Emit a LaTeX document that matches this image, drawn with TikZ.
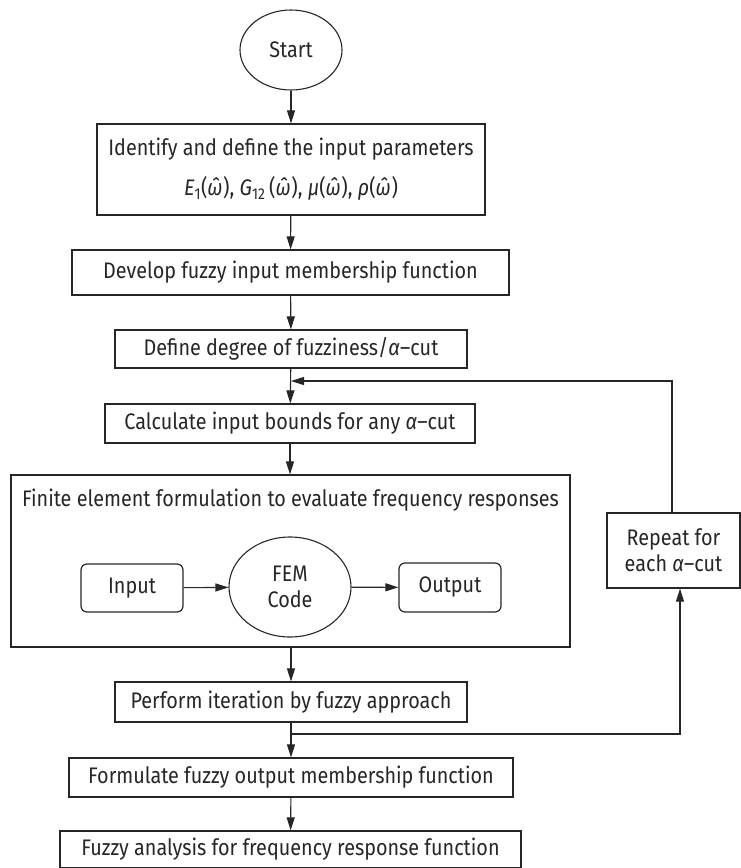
\documentclass[tikz,border=0pt]{standalone}
\usepackage{fontspec}
\setmainfont{Fira Sans}[FakeStretch=0.88]
\usetikzlibrary{arrows.meta,shapes.geometric}
\definecolor{ink}{HTML}{262626}
\begin{document}
\begin{tikzpicture}[x=1pt,y=-1pt,
  every node/.style={text=ink,font=\fontsize{22.5}{26}\selectfont},
  box/.style={draw=ink,line width=1.2pt,rectangle,inner sep=0pt},
  rbox/.style={box,rounded corners=6pt},
  oval/.style={draw=ink,line width=1.1pt,ellipse,inner sep=0pt},
  flow/.style={draw=ink,line width=1.1pt,-{Triangle[length=13pt,width=8pt]}},
  wire/.style={draw=ink,line width=1.1pt}]
\useasboundingbox (0,0) rectangle (741,868);

% main column
\node[oval,minimum width=102pt,minimum height=80pt] (start) at (291,50) {Start};
\node[box,minimum width=388pt,minimum height=91pt,align=center] (ident) at (291,169.5)
  {Identify and define the input parameters\\[14pt]
   \textit{E}\textsubscript{1}(\textit{ω̂}), \textit{G}\textsubscript{12}\,(\textit{ω̂}), \textit{μ}(\textit{ω̂}), \textit{ρ}(\textit{ω̂})};
\node[box,minimum width=437pt,minimum height=45pt] (develop) at (290.5,272.5) {Develop fuzzy input membership function};
\node[box,minimum width=352pt,minimum height=38pt] (degree) at (291,349) {Define degree of fuzziness/\textit{α}–cut};
\node[box,minimum width=370pt,minimum height=39pt] (bounds) at (290,423.5) {Calculate input bounds for any \textit{α}–cut};

% finite element block
\node[box,minimum width=559pt,minimum height=172pt] (fe) at (290.5,561) {};
\node[anchor=north,inner sep=0pt] (fetitle) at ([yshift=-14pt]fe.north) {Finite element formulation to evaluate frequency responses};
\node[rbox,minimum width=102pt,minimum height=48pt] (in) at (132,588) {Input};
\node[oval,minimum width=122pt,minimum height=100pt,align=center] (fem) at (290,587) {FEM\\Code};
\node[rbox,minimum width=102pt,minimum height=49pt] (out) at (450,587.5) {Output};

\node[box,minimum width=352pt,minimum height=40pt] (iter) at (291,702) {Perform iteration by fuzzy approach};
\node[box,minimum width=444pt,minimum height=39pt] (formout) at (291,777.5) {Formulate fuzzy output membership function};
\node[box,minimum width=461pt,minimum height=37pt] (final) at (290.5,849.5) {Fuzzy analysis for frequency response function};

% loop box
\node[box,minimum width=133pt,minimum height=75pt,align=center] (repeat) at (673.5,550.5) {Repeat for\\each \textit{α}–cut};

% junction points of the loop
\coordinate (jtop) at (291,381);
\coordinate (jbot) at (291,734);
\coordinate (rtop) at (672,381);
\coordinate (rbot) at (680,734);

% connectors
\draw[flow] (start) -- (ident);
\draw[flow] (ident) -- (develop);
\draw[flow] (develop) -- (degree);
\draw[flow] (degree) -- (bounds);
\draw[flow] (bounds) -- (bounds.south |- fe.north);
\draw[flow] (in) -- (fem);
\draw[flow] (fem) -- (out);
\draw[flow] (fe.south -| iter.north) -- (iter);
\draw[flow] (iter) -- (formout);
\draw[flow] (formout) -- (final);
\draw[flow] (repeat.north -| rtop) -- (rtop) -- (jtop);
\draw[flow] (jbot) -- (rbot) -- (rbot |- repeat.south);
\end{tikzpicture}
\end{document}
